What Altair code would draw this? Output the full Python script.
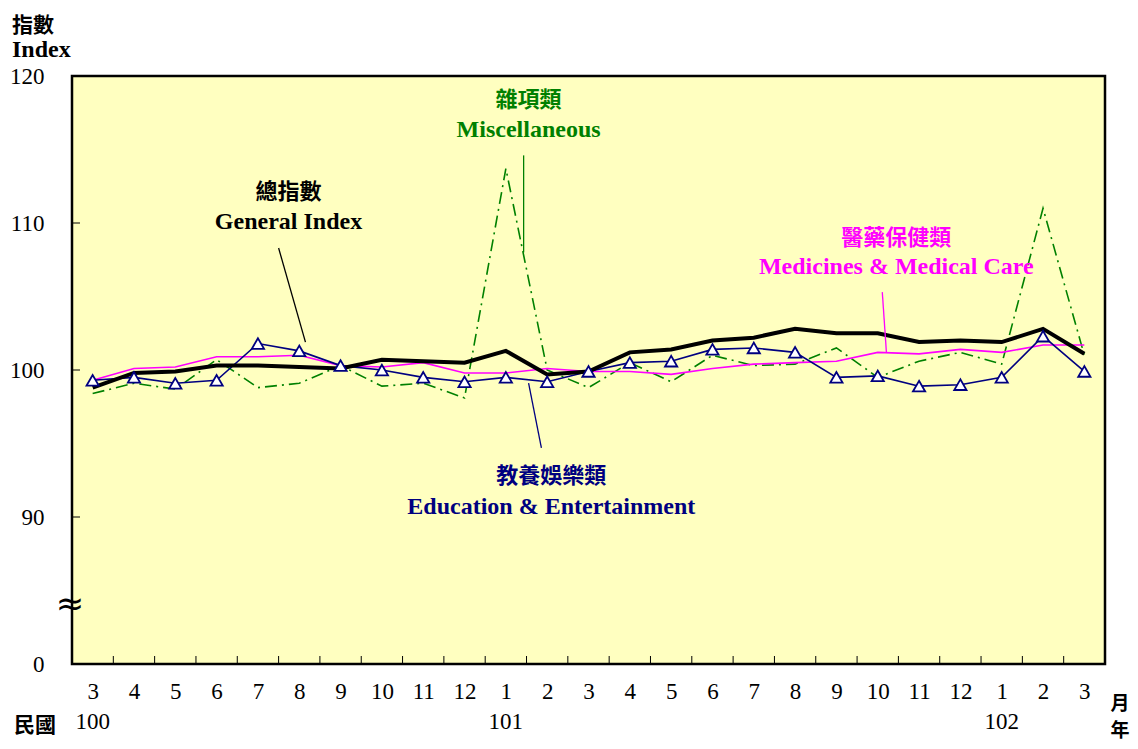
import altair as alt
import pandas as pd

months = [3, 4, 5, 6, 7, 8, 9, 10, 11, 12, 1, 2, 3, 4, 5, 6, 7, 8, 9, 10, 11, 12, 1, 2, 3]
years = ["100", "", "", "", "", "", "", "", "", "", "101", "", "", "", "", "", "", "", "", "", "", "", "102", "", ""]
general = [98.8, 99.8, 99.9, 100.3, 100.3, 100.2, 100.1, 100.7, 100.6, 100.5, 101.3, 99.7, 99.9,
           101.2, 101.4, 102.0, 102.2, 102.8, 102.5, 102.5, 101.9, 102.0, 101.9, 102.8, 101.1]
medical = [99.3, 100.1, 100.2, 100.9, 100.9, 101.0, 100.3, 100.2, 100.5, 99.8, 99.8, 100.1, 99.9,
           99.9, 99.7, 100.1, 100.4, 100.5, 100.6, 101.2, 101.1, 101.4, 101.2, 101.7, 101.7]
education = [99.3, 99.5, 99.1, 99.3, 101.8, 101.3, 100.3, 100.0, 99.5, 99.2, 99.5, 99.2, 99.9,
             100.5, 100.6, 101.4, 101.5, 101.2, 99.5, 99.6, 98.9, 99.0, 99.5, 102.3, 99.9]
misc = [98.4, 99.1, 98.7, 100.7, 98.8, 99.1, 100.3, 98.9, 99.1, 98.1, 113.7, 100.0, 98.8,
        100.5, 99.2, 101.0, 100.3, 100.4, 101.5, 99.5, 100.6, 101.2, 100.4, 111.0, 101.0]
y_ticks = [80, 90, 100, 110, 120]

W, H = 1033, 588
SERIF = "Liberation Serif"
CJK = "Noto Sans CJK TC"

idx = list(range(len(months)))
df = pd.DataFrame({"i": idx, "month": months, "year": years,
                   "general": general, "medical": medical,
                   "education": education, "misc": misc})

month_js = "[" + ",".join("'%d'" % m for m in months) + "]"
xscale = alt.Scale(domain=[-0.5, 24.5], nice=False, zero=False)
yscale = alt.Scale(domain=[80, 120], nice=False, zero=False)

xaxis = alt.Axis(values=idx, labelExpr=month_js + "[datum.value]", ticks=False, domain=False,
                 grid=False, labelFont=SERIF, labelFontSize=23, labelColor="black",
                 labelPadding=16, labelFlush=False, labelOverlap=False, title=None)
yaxis = alt.Axis(values=y_ticks, labelExpr="datum.value == 80 ? '0' : datum.label", ticks=False,
                 domain=False, grid=False, labelFont=SERIF, labelFontSize=23, labelColor="black",
                 labelPadding=28, labelFlush=False, labelOverlap=False, title=None)


def X(field):
    return alt.X(field + ":Q", scale=xscale, axis=xaxis)


def Y(field):
    return alt.Y(field + ":Q", scale=yscale, axis=yaxis)


base = alt.Chart(df)
misc_line = base.mark_line(color="#008000", strokeWidth=1.6, strokeDash=[12, 5, 2, 5]).encode(x=X("i"), y=Y("misc"))
med_line = base.mark_line(color="#FF00FF", strokeWidth=1.6).encode(x=X("i"), y=Y("medical"))
edu_line = base.mark_line(color="#000080", strokeWidth=1.6).encode(x=X("i"), y=Y("education"))
gen_line = base.mark_line(color="black", strokeWidth=4).encode(x=X("i"), y=Y("general"))
edu_pts = base.mark_point(shape="triangle-up", size=150, filled=True, fill="white",
                          stroke="#000080", strokeWidth=1.8, opacity=1).encode(x=X("i"), y=Y("education"))

# inward ticks
xt = pd.DataFrame({"t": [i + 0.5 for i in idx[:-1]]})
x_ticks = alt.Chart(xt).mark_rule(color="black", strokeWidth=1).encode(
    x=X("t"), y=alt.value(H - 8), y2=alt.value(H))
yt = pd.DataFrame({"t": y_ticks})
y_ticks_l = alt.Chart(yt).mark_rule(color="black", strokeWidth=1).encode(
    y=Y("t"), x=alt.value(0), x2=alt.value(8))

# year labels
year_text = base.mark_text(font=SERIF, fontSize=23, color="black", baseline="middle").encode(
    x=X("i"), y=alt.value(H + 58), text="year:N")

# annotations (data coordinates)
ann_text = pd.DataFrame({
    "x": [4.74, 4.74, 10.55, 10.55, 19.45, 19.45, 11.1, 11.1],
    "y": [112.1, 110.1, 118.4, 116.3, 109.0, 107.0, 92.8, 90.7],
    "label": ["總指數", "General Index", "雜項類", "Miscellaneous",
              "醫藥保健類", "Medicines & Medical Care", "教養娛樂類", "Education & Entertainment"],
    "color": ["black", "black", "#008000", "#008000", "#FF00FF", "#FF00FF", "#000080", "#000080"],
    "font": [CJK, SERIF, CJK, SERIF, CJK, SERIF, CJK, SERIF],
})
ann_layers = []
for _, r in ann_text.iterrows():
    ann_layers.append(
        alt.Chart(pd.DataFrame([r])).mark_text(font=r["font"], fontSize=24 if r["font"] == SERIF else 22,
                                               fontWeight="bold", color=r["color"], baseline="middle",
                                               align="center").encode(
            x=X("x"), y=Y("y"), text="label:N"))

leaders = pd.DataFrame({
    "x": [4.5, 10.43, 19.11, 10.55],
    "y": [108.3, 114.6, 105.3, 99.1],
    "x2": [5.15, 10.43, 19.21, 10.86],
    "y2": [101.9, 108.0, 101.2, 94.7],
    "c": ["black", "#008000", "#FF00FF", "#000080"],
})
leader_rules = alt.Chart(leaders).mark_rule(strokeWidth=1.3).encode(
    x=X("x"), y=Y("y"), x2="x2:Q", y2="y2:Q", color=alt.Color("c:N", scale=None))


# outside-plot texts (pixel positions)
def ptext(txt, x, y, font, size=20, align="left"):
    return alt.Chart(pd.DataFrame({"t": [txt]})).mark_text(
        font=font, fontSize=size, fontWeight="bold", color="black", align=align, baseline="middle"
    ).encode(x=alt.value(x), y=alt.value(y), text="t:N")


outside = [
    ptext("指數", -60, -50, CJK, 21),
    ptext("Index", -60, -26, SERIF, 24),
    ptext("民國", -37, 650, CJK, 21, "center"),
    ptext("月", 1048, 628, CJK, 19, "center"),
    ptext("年", 1048, 655, CJK, 19, "center"),
]
brk = alt.Chart(pd.DataFrame({"t": ["≈"], "y": [84.0]})).mark_text(
    font="DejaVu Sans", fontSize=34, color="black", align="center", baseline="middle").encode(
    x=alt.value(-2), y=Y("y"), text="t:N")

chart = alt.layer(
    misc_line, med_line, edu_line, gen_line, edu_pts, x_ticks, y_ticks_l, year_text,
    leader_rules, *ann_layers, *outside, brk
).properties(
    width=W, height=H, autosize=alt.AutoSizeParams(type="none"),
    padding={"left": 64, "top": 68, "right": 25, "bottom": 77},
    background="white"
).configure_view(fill="#FFFFC0", stroke="black", strokeWidth=2.5)

chart.save("out.html", embed_options={"renderer": "svg", "actions": False})
